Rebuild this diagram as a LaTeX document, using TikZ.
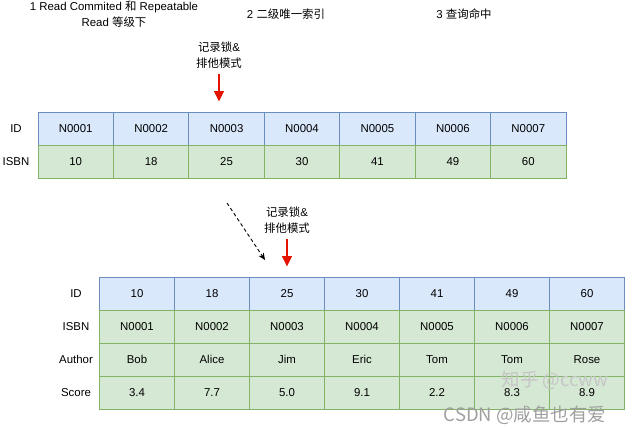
\documentclass[tikz,border=0pt]{standalone}
\usepackage{fontspec}
\setmainfont{Liberation Sans}
\newfontfamily\cjk{Noto Sans CJK SC}
\usetikzlibrary{arrows.meta}
\definecolor{keyfill}{HTML}{DAE8FC}
\definecolor{keyline}{HTML}{6C8EBF}
\definecolor{valfill}{HTML}{D5E8D4}
\definecolor{valline}{HTML}{82B366}
\definecolor{lockred}{HTML}{E51400}
\newcommand{\zh}[1]{{\cjk #1}}
\tikzset{
  cell/.style={draw, line width=0.5pt, minimum width=1.508cm, minimum height=0.66cm,
    inner sep=0pt, font=\fontsize{6.5}{8}\selectfont},
  keycell/.style={cell, fill=keyfill, draw=keyline},
  valcell/.style={cell, fill=valfill, draw=valline},
  rowname/.style={font=\fontsize{6.5}{8}\selectfont},
  note/.style={align=center, font=\fontsize{6.5}{9}\selectfont},
  lockarrow/.style={draw=lockred, line width=1.2pt, -{Triangle[length=6pt,width=5.5pt]},
    shorten >=0.2cm},
  watermark/.style={font=\cjk\fontsize{10.5}{12}\selectfont}
}

\begin{document}
\begin{tikzpicture}[x=0.02cm, y=-0.02cm]
  \useasboundingbox (0,0) rectangle (625,433);

  % titles
  \node[note] (step1) at (114,14) {1 Read Commited \zh{和} Repeatable\\Read \zh{等级下}};
  \node[note] (step2) at (286,14) {2 \zh{二级唯一索引}};
  \node[note] (step3) at (464,14) {3 \zh{查询命中}};

  % secondary unique index
  \node[rowname] (tidname) at (16,128.5) {ID};
  \node[rowname] (tisbnname) at (16,161.5) {ISBN};
  \foreach \k/\v [count=\i] in {N0001/10, N0002/18, N0003/25, N0004/30,
                                 N0005/41, N0006/49, N0007/60}{
    \node[keycell] (tid\i) at ({38+75.43*\i-37.7},128.5) {\k};
    \node[valcell] (tisbn\i) at ({38+75.43*\i-37.7},161.5) {\v};
  }

  % clustered index
  \node[rowname] (bidname) at (76,293.5) {ID};
  \node[rowname] (bisbnname) at (76,326.5) {ISBN};
  \node[rowname] (bauthorname) at (76,359.5) {Author};
  \node[rowname] (bscorename) at (76,392.5) {Score};
  \foreach \k/\isbn/\who/\score [count=\i] in {10/N0001/Bob/3.4, 18/N0002/Alice/7.7,
      25/N0003/Jim/5.0, 30/N0004/Eric/9.1, 41/N0005/Tom/2.2, 49/N0006/Tom/8.3,
      60/N0007/Rose/8.9}{
    \node[keycell] (bid\i) at ({99.5+75*\i-37.5},293.5) {\k};
    \node[valcell] (bisbn\i) at ({99.5+75*\i-37.5},326.5) {\isbn};
    \node[valcell] (bauthor\i) at ({99.5+75*\i-37.5},359.5) {\who};
    \node[valcell] (bscore\i) at ({99.5+75*\i-37.5},392.5) {\score};
  }

  % locks
  \node[note] (lock1) at (219,55) {\zh{记录锁}\&\\\zh{排他模式}};
  \draw[lockarrow] (lock1.south) -- (lock1.south |- tid3.north);
  \node[note] (lock2) at (287,220) {\zh{记录锁}\&\\\zh{排他模式}};
  \draw[lockarrow] (lock2.south) -- (bid3.north);

  \coordinate (lookup) at (227,203);
  \coordinate (back) at (265,260);
  \draw[dash pattern=on 2pt off 1.5pt, line width=0.5pt, -{Stealth[length=4pt,width=3.5pt]}]
    (lookup) -- (back);

  % watermarks
  \node[watermark, text=gray!45] (zhihu) at (555,380) {知乎 @ccww};
  \node[watermark, text=gray!75] (csdn) at (525,415) {CSDN @咸鱼也有爱};
\end{tikzpicture}
\end{document}
